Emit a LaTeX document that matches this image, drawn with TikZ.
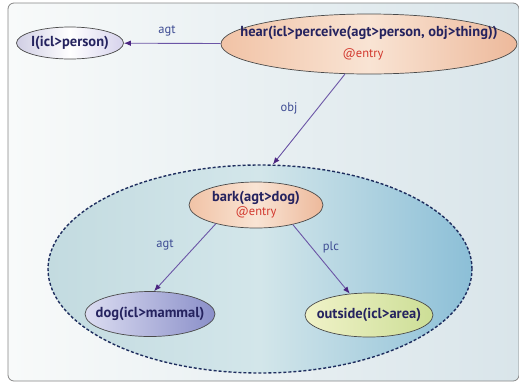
\documentclass[tikz,border=0pt]{standalone}
\usepackage{fontspec}
\setmainfont{PT Sans}
\usetikzlibrary{arrows.meta,shapes.geometric}

\definecolor{framegray}{HTML}{858585}
\definecolor{bgleft}{HTML}{F8FAFA}
\definecolor{bgright}{HTML}{D9E5EA}
\definecolor{conceptline}{HTML}{4A4A4A}
\definecolor{conceptblue}{HTML}{25235F}
\definecolor{entryred}{HTML}{D2382E}
\definecolor{relpurple}{HTML}{6B55A6}
\definecolor{tippurple}{HTML}{4B2581}
\definecolor{labelblue}{HTML}{3E4C93}
\definecolor{dashnavy}{HTML}{1E2D5E}
\definecolor{peachl}{HTML}{F1C3A6}
\definecolor{peachr}{HTML}{EDB99B}
\definecolor{peachm}{HTML}{F9E4D4}
\definecolor{grpl}{HTML}{C3DBE0}
\definecolor{grpm}{HTML}{D3E6EA}
\definecolor{grpr}{HTML}{8CBFD7}
\definecolor{lavl}{HTML}{D0CEE4}
\definecolor{lavr}{HTML}{D6D2EC}
\definecolor{dogl}{HTML}{DCDDF1}
\definecolor{dogr}{HTML}{8A8FC9}
\definecolor{limel}{HTML}{F0F2C8}
\definecolor{limer}{HTML}{CCDE96}

\begin{document}
\begin{tikzpicture}[x=1pt,y=-1pt,
  concept/.style={ellipse,draw=conceptline,line width=0.7pt,inner sep=0pt,
    text=conceptblue,font=\bfseries\fontsize{14.5}{16}\selectfont},
  entry/.style={concept,left color=peachl,right color=peachr,middle color=peachm},
  rel/.style={draw=relpurple,line width=0.9pt,
    -{Latex[length=7pt,width=5.5pt,color=tippurple]}},
  rellabel/.style={text=labelblue,font=\fontsize{12.5}{14}\selectfont}]
  \useasboundingbox (0,0) rectangle (519,384);
  \draw[framegray,line width=0.8pt,rounded corners=6pt,left color=bgleft,right color=bgright]
    (8,3) rectangle (519,381);
  % group round bark
  \node[ellipse,minimum width=424pt,minimum height=208pt,draw=dashnavy,line width=1.4pt,
    dash pattern=on 3pt off 2pt,left color=grpl,right color=grpr,middle color=grpm]
    (grp) at (260,269) {};
  % concepts
  \node[concept,minimum width=107pt,minimum height=32pt,left color=lavl,
    right color=lavr,middle color=white] (I) at (70,43)
    {\makebox[0pt]{I(icl>person)}};
  \node[entry,minimum width=296pt,minimum height=60pt] (hear) at (369,44)
    {\makebox[0pt]{\begin{tabular}{@{}c@{}}hear(icl>perceive(agt>person, obj>thing))\\[5pt]
     \hspace{-12pt}\textcolor{entryred}{\mdseries\fontsize{12.5}{14}\selectfont @entry}\end{tabular}}};
  \node[entry,minimum width=134pt,minimum height=46pt] (bark) at (256,205)
    {\makebox[0pt]{\begin{tabular}{@{}c@{}}bark(agt>dog)\\[-2pt]
     \textcolor{entryred}{\mdseries\fontsize{12.5}{14}\selectfont @entry}\end{tabular}}};
  \node[concept,minimum width=130pt,minimum height=45pt,left color=dogl,
    right color=dogr] (dog) at (150,314)
    {\makebox[0pt]{dog(icl>mammal)}};
  \node[concept,minimum width=128pt,minimum height=44pt,left color=limel,
    right color=limer] (outside) at (369,315)
    {\makebox[0pt]{outside(icl>area)}};
  % relations
  \draw[rel] (hear) -- (I);
  \draw[rel] (hear) -- (grp.83);
  \draw[rel] (bark.-155) -- (dog.80);
  \draw[rel] (bark.-28) -- (outside.132);
  \node[rellabel] (agtI) at (167,31) {agt};
  \node[rellabel] (objG) at (289,108) {obj};
  \node[rellabel] (agtD) at (165,245) {agt};
  \node[rellabel] (plcO) at (331,247) {plc};
\end{tikzpicture}
\end{document}
